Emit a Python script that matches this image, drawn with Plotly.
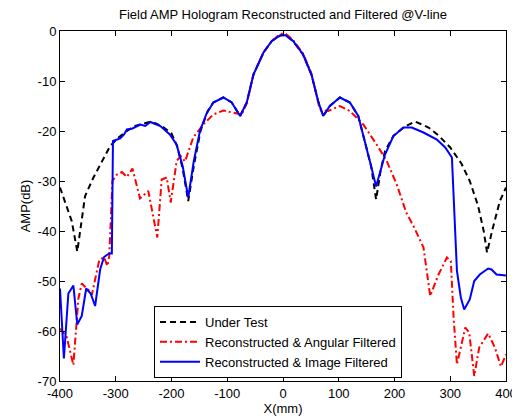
import plotly.graph_objects as go

# ---- data ----
ut_x = [-400,-390,-379,-369,-360,-355,-340,-325,-310,-295,-280,-265,-250,-240,-228,-215,-200,-190,-180,-170,-160,-148,-135,-125,-107,-92,-77,-65,-53,-35,-20,-5,0,5,18,36,51,63,72,84,102,120,135,147,158,167,175,183,198,216,237,261,280,300,320,335,350,360,366,375,389,400]
ut_y = [-31.3,-34.5,-38,-44.1,-37,-33,-29.3,-26,-23,-21.3,-20,-19,-18.5,-18.2,-18.5,-19.2,-20.5,-23,-27.5,-34,-27,-20,-16,-14.3,-13.3,-14.3,-17,-14.3,-8.7,-4.3,-2,-0.9,-0.8,-0.9,-2,-4.7,-8.7,-14,-17,-15,-13.3,-14.3,-17,-22,-27,-33.7,-28,-24,-21,-19.3,-18.1,-19.3,-21,-23.3,-26.5,-30,-35,-40,-44.3,-40,-34,-31.3]

ang_x = [-400,-388,-376,-367,-361,-349,-343,-329.5,-321,-315,-311.6,-306,-298,-289,-280,-270,-256.5,-241.6,-225.5,-217.6,-208.6,-201.4,-190.7,-183.5,-175.8,-161,-143,-125,-107,-89,-74,-65,-53,-35,-20,-5,0,5,18,36,51,66,81,102,120,144,168,186,204,221,234,252,264,279,294,301,306,312,327,334,343,352,368,380,391,400]
ang_y = [-59.5,-61.2,-66.8,-53.5,-50.5,-51.8,-52.8,-45.8,-45.2,-47,-45,-30,-28.7,-28.2,-29.2,-27.5,-33.5,-32,-41.3,-29.7,-29.3,-34.3,-26,-25,-26.1,-21.3,-18.7,-16.7,-15.9,-16.3,-16.7,-14.5,-8.7,-4.3,-2,-0.6,-0.5,-0.6,-1.8,-4.5,-8.5,-15.7,-16,-15,-16,-18.7,-22.7,-26,-30.7,-36.3,-39,-43.3,-53,-48.7,-45.3,-46,-57.3,-66.7,-59.3,-60.3,-69,-63.3,-60.5,-63.3,-67.1,-64.7]

img_x = [-400,-393,-385,-376,-369,-361,-353,-345,-337,-328,-321,-312,-307,-305,-292,-285,-280,-270,-256,-247,-238,-220,-203,-191,-180,-170,-160,-149,-137,-125,-107,-92,-77,-65,-53,-35,-20,-5,0,5,18,36,51,63,72,84,102,120,135,147,158,167,175,183,198,216,231,252,276,291,303,306,312,319,325,335,343,353,368,374,383,400]
img_y = [-51.5,-65.5,-52.5,-50.9,-58.7,-57,-51.5,-52.5,-55,-47.7,-45.2,-44.5,-44.5,-22,-21.5,-20.7,-19.7,-19.5,-18.7,-19,-18.2,-19,-20.7,-22.7,-27,-33.3,-26,-20,-16.5,-14.3,-13.3,-14.3,-17,-14.3,-8.7,-4.3,-2,-0.9,-0.8,-0.9,-2,-4.7,-8.7,-14,-17,-15,-13.3,-14.3,-17,-22,-27,-31.1,-28,-24.7,-21,-19.3,-19.3,-20.3,-21.7,-23.3,-25.3,-34,-48,-53.3,-55.7,-53.7,-50,-48.7,-47.5,-47.7,-48.7,-48.9]

x_ticks = [-400,-300,-200,-100,0,100,200,300,400]
x_ticktext = ["-400","-300","-200","-100","0","100","200","300","400"]
y_ticks = [0,-10,-20,-30,-40,-50,-60,-70]
y_ticktext = ["0","-10","-20","-30","-40","-50","-60","-70"]

names = ["Under Test", "Reconstructed & Angular Filtered", "Reconstructed & Image Filtered"]

FONT = "Liberation Sans, Arial, sans-serif"
FS = 13

fig = go.Figure()
fig.add_trace(go.Scatter(x=ut_x, y=ut_y, mode="lines", name=names[0],
                         line=dict(color="black", width=2, dash="6px,4px")))
fig.add_trace(go.Scatter(x=ang_x, y=ang_y, mode="lines", name=names[1],
                         line=dict(color="#ff0000", width=2, dash="7px,3px,2px,3px")))
fig.add_trace(go.Scatter(x=img_x, y=img_y, mode="lines", name=names[2],
                         line=dict(color="#0000ff", width=2)))

axis_common = dict(showline=True, linecolor="black", linewidth=1, mirror="ticks",
                   ticks="inside", ticklen=5, tickcolor="black", showgrid=False,
                   zeroline=False, automargin=False,
                   tickfont=dict(family=FONT, size=FS, color="black"))

# page body has an 8px margin, so the figure is 512x412 placed at (8,8)
fig.update_layout(
    width=512, height=412,
    margin=dict(l=52, r=14, t=23, b=39),
    paper_bgcolor="white", plot_bgcolor="white",
    font=dict(family=FONT, size=FS, color="black"),
    title=dict(text="Field AMP Hologram Reconstructed and Filtered @V-line",
               x=0.5, xref="paper", y=1 - 6 / 412, yref="container",
               yanchor="middle", xanchor="center", automargin=False,
               font=dict(family=FONT, size=FS, color="black")),
    xaxis=dict(range=[-400, 400], tickvals=x_ticks, ticktext=x_ticktext,
               title=dict(text="X(mm)", standoff=2, font=dict(family=FONT, size=FS)),
               **axis_common),
    yaxis=dict(range=[-70, 0], tickvals=y_ticks, ticktext=y_ticktext,
               title=dict(text="AMP(dB)", standoff=4, font=dict(family=FONT, size=FS)),
               **axis_common),
    legend=dict(x=(154 - 60) / 446, y=1 - (306 - 31) / 350, xanchor="left", yanchor="top",
                bgcolor="white", bordercolor="black", borderwidth=1,
                font=dict(family=FONT, size=FS, color="black"),
                tracegroupgap=0, itemwidth=40),
    showlegend=True,
)

fig.write_html("out.html")
